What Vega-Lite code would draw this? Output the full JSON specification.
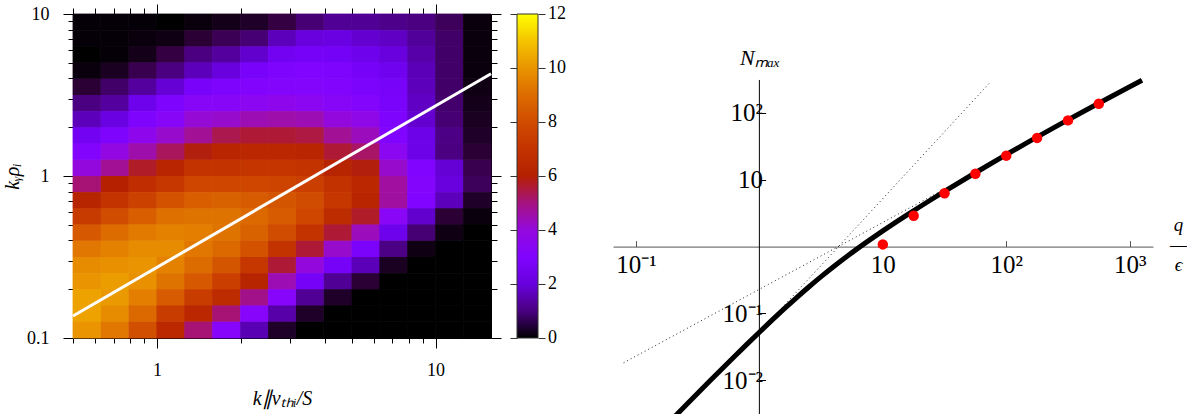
{
  "$schema": "https://vega.github.io/schema/vega-lite/v6.json",
  "background": "white",
  "padding": {"left": 2, "top": 3, "right": 0, "bottom": 0},
  "bounds": "flush",
  "spacing": 122,
  "config": {
    "font": "Liberation Serif",
    "view": {"stroke": null},
    "axis": {"grid": false, "labelColor": "black", "titleColor": "black", "titleFontWeight": "normal", "labelFont": "Liberation Serif", "titleFont": "Liberation Serif", "labelOverlap": false, "labelFlush": false, "domainColor": "black", "tickColor": "black"},
    "legend": {"labelFont": "Liberation Serif", "labelColor": "black"}
  },
  "datasets": {
    "cols": [{"i":0,"x0":0.5,"x1":0.6295},{"i":1,"x0":0.6295,"x1":0.7924},{"i":2,"x0":0.7924,"x1":0.9976},{"i":3,"x0":0.9976,"x1":1.2559},{"i":4,"x0":1.2559,"x1":1.5811},{"i":5,"x0":1.5811,"x1":1.9905},{"i":6,"x0":1.9905,"x1":2.5059},{"i":7,"x0":2.5059,"x1":3.1548},{"i":8,"x0":3.1548,"x1":3.9716},{"i":9,"x0":3.9716,"x1":5.0},{"i":10,"x0":5.0,"x1":6.2946},{"i":11,"x0":6.2946,"x1":7.9245},{"i":12,"x0":7.9245,"x1":9.9763},{"i":13,"x0":9.9763,"x1":12.559},{"i":14,"x0":12.559,"x1":15.811}],
    "rows": [{"j":0,"y0":7.9433,"y1":10},{"j":1,"y0":6.3096,"y1":7.9433},{"j":2,"y0":5.0119,"y1":6.3096},{"j":3,"y0":3.9811,"y1":5.0119},{"j":4,"y0":3.1623,"y1":3.9811},{"j":5,"y0":2.5119,"y1":3.1623},{"j":6,"y0":1.9953,"y1":2.5119},{"j":7,"y0":1.5849,"y1":1.9953},{"j":8,"y0":1.2589,"y1":1.5849},{"j":9,"y0":1.0,"y1":1.2589},{"j":10,"y0":0.7943,"y1":1.0},{"j":11,"y0":0.631,"y1":0.7943},{"j":12,"y0":0.5012,"y1":0.631},{"j":13,"y0":0.3981,"y1":0.5012},{"j":14,"y0":0.3162,"y1":0.3981},{"j":15,"y0":0.2512,"y1":0.3162},{"j":16,"y0":0.1995,"y1":0.2512},{"j":17,"y0":0.1585,"y1":0.1995},{"j":18,"y0":0.1259,"y1":0.1585},{"j":19,"y0":0.1,"y1":0.1259}],
    "heat": [
      {"j":0,"i":[0,1,2,3,4,5,6,7,8,9,10,11,12,13,14],"v":[0.05,0.05,0.05,0.0,0.1,0.2,0.3,0.5,0.9,1.2,1.2,1.1,1.0,0.7,0.1]},
      {"j":1,"i":[0,1,2,3,4,5,6,7,8,9,10,11,12,13,14],"v":[0.05,0.05,0.1,0.15,0.4,0.65,0.9,1.6,2.0,2.1,1.85,1.7,1.25,0.8,0.1]},
      {"j":2,"i":[0,1,2,3,4,5,6,7,8,9,10,11,12,13,14],"v":[0.0,0.05,0.2,0.5,1.0,1.3,1.8,2.4,2.6,2.5,2.3,2.0,1.4,0.8,0.1]},
      {"j":3,"i":[0,1,2,3,4,5,6,7,8,9,10,11,12,13,14],"v":[0.1,0.25,0.6,1.0,1.6,2.0,2.7,2.9,3.0,2.9,2.6,2.35,1.55,0.8,0.1]},
      {"j":4,"i":[0,1,2,3,4,5,6,7,8,9,10,11,12,13,14],"v":[0.4,0.8,1.3,1.9,2.7,2.9,3.1,3.2,3.2,3.1,2.85,2.65,1.6,0.8,0.15]},
      {"j":5,"i":[0,1,2,3,4,5,6,7,8,9,10,11,12,13,14],"v":[1.0,1.3,2.3,2.9,3.4,3.4,3.6,3.7,3.6,3.4,3.2,2.75,1.7,0.85,0.2]},
      {"j":6,"i":[0,1,2,3,4,5,6,7,8,9,10,11,12,13,14],"v":[1.6,2.1,2.9,3.4,4.1,4.2,4.5,4.6,4.5,4.0,3.8,2.9,1.85,0.9,0.25]},
      {"j":7,"i":[0,1,2,3,4,5,6,7,8,9,10,11,12,13,14],"v":[2.4,2.9,3.7,4.2,4.8,5.4,5.6,5.6,5.5,4.8,4.4,3.0,2.2,1.05,0.3]},
      {"j":8,"i":[0,1,2,3,4,5,6,7,8,9,10,11,12,13,14],"v":[3.1,3.9,4.6,5.3,5.9,6.3,6.4,6.4,6.3,5.6,5.2,3.6,2.2,1.0,0.4]},
      {"j":9,"i":[0,1,2,3,4,5,6,7,8,9,10,11,12,13,14],"v":[4.0,4.8,5.7,6.3,7.0,7.0,7.1,7.1,7.0,6.2,5.9,4.2,3.0,1.9,0.6]},
      {"j":10,"i":[0,1,2,3,4,5,6,7,8,9,10,11,12,13,14],"v":[5.1,6.0,6.7,7.2,7.8,7.8,7.8,7.7,7.5,6.9,6.4,4.7,3.2,2.0,0.7]},
      {"j":11,"i":[0,1,2,3,4,5,6,7,8,9,10,11,12,13,14],"v":[6.2,7.0,7.6,8.2,8.6,8.7,8.5,8.3,8.0,7.2,6.3,4.7,3.0,1.6,0.3]},
      {"j":12,"i":[0,1,2,3,4,5,6,7,8,9,10,11,12,13,14],"v":[7.3,8.0,8.6,9.1,9.2,9.2,8.9,8.5,7.8,6.6,5.7,3.5,1.8,0.4,0.1]},
      {"j":13,"i":[0,1,2,3,4,5,6,7,8,9,10,11,12,13,14],"v":[8.4,9.0,9.4,9.6,9.5,9.2,8.7,8.0,7.0,5.6,4.4,2.3,0.9,0.15,0]},
      {"j":14,"i":[0,1,2,3,4,5,6,7,8,9,10,11,12,13,14],"v":[9.3,9.6,9.8,9.8,9.3,8.9,8.2,7.0,5.6,4.2,2.8,1.05,0.15,0,0]},
      {"j":15,"i":[0,1,2,3,4,5,6,7,8,9,10,11,12,13,14],"v":[9.8,9.9,10.0,9.6,9.0,8.3,7.2,5.6,4.0,2.6,1.55,0.25,0,0,0]},
      {"j":16,"i":[0,1,2,3,4,5,6,7,8,9,10,11,12,13,14],"v":[10.0,10.2,9.9,9.2,8.4,7.5,6.2,4.5,2.6,1.2,0.4,0,0,0,0]},
      {"j":17,"i":[0,1,2,3,4,5,6,7,8,9,10,11,12,13,14],"v":[10.3,10.1,9.5,8.5,7.4,6.6,4.9,3.3,1.2,0.3,0,0,0,0,0]},
      {"j":18,"i":[0,1,2,3,4,5,6,7,8,9,10,11,12,13,14],"v":[10.3,9.8,8.9,7.4,6.4,5.1,3.3,1.4,0.3,0,0,0,0,0,0]},
      {"j":19,"i":[0,1,2,3,4,5,6,7,8,9,10,11,12,13,14],"v":[10.0,9.3,8.1,6.5,5.1,3.3,1.5,0.3,0,0,0,0,0,0,0]}
    ],
    "cbar": [{"c": 0, "k": 1}, {"c": 12, "k": 1}]
  },
  "hconcat": [
    {
      "width": 418,
      "height": 324,
      "layer": [
        {
          "data": {"name": "heat"},
          "transform": [
            {"flatten": ["i", "v"], "as": ["i", "w"]},
            {"lookup": "i", "from": {"data": {"name": "cols"}, "key": "i", "fields": ["x0", "x1"]}},
            {"lookup": "j", "from": {"data": {"name": "rows"}, "key": "j", "fields": ["y0", "y1"]}}
          ],
          "mark": {"type": "rect", "filled": false, "strokeWidth": 0.8},
          "encoding": {
            "x": {"field": "x0", "type": "quantitative", "scale": {"type": "log", "domain": [0.5, 15.811], "nice": false}, "axis": null},
            "x2": {"field": "x1"},
            "y": {"field": "y0", "type": "quantitative", "scale": {"type": "log", "domain": [0.1, 10], "nice": false}, "axis": null},
            "y2": {"field": "y1"},
            "stroke": {"field": "w", "type": "quantitative",
              "scale": {"domain": [0, 12.001], "interpolate": "rgb", "range": ["#000000","#340042","#4a0080","#5a00b4","#6801dd","#7402f6","#8004ff","#8a06f6","#9309dd","#9c0db4","#a51280","#ad1942","#b42000","#bc2900","#c33300","#ca3e00","#d04c00","#d75b00","#dd6c00","#e37e00","#e99400","#efab00","#f4c400","#fae000","#ffff00"]},
              "legend": null}
          }
        },
        {
          "data": {"name": "heat"},
          "transform": [
            {"flatten": ["i", "v"]},
            {"lookup": "i", "from": {"data": {"name": "cols"}, "key": "i", "fields": ["x0", "x1"]}},
            {"lookup": "j", "from": {"data": {"name": "rows"}, "key": "j", "fields": ["y0", "y1"]}}
          ],
          "mark": {"type": "rect"},
          "encoding": {
            "x": {"field": "x0", "type": "quantitative", "scale": {"type": "log", "domain": [0.5, 15.811], "nice": false},
              "axis": {"orient": "bottom", "values": [0.5,0.6,0.7,0.8,0.9,1,2,3,4,5,6,7,8,9,10],
                "labelExpr": "datum.value == 1 ? '1' : datum.value == 10 ? '10' : ''",
                "tickSize": {"condition": {"test": "datum.value == 1 || datum.value == 10", "value": 10}, "value": 5},
                "labelPadding": 13, "labelFontSize": 18,
                "title": "k∥vₜₕᵢ/S", "titleFontStyle": "italic", "titleFontSize": 20, "titlePadding": 9}},
            "x2": {"field": "x1"},
            "y": {"field": "y0", "type": "quantitative", "scale": {"type": "log", "domain": [0.1, 10], "nice": false},
              "axis": {"orient": "left", "values": [0.1,0.2,0.3,0.4,0.5,0.6,0.7,0.8,0.9,1,2,3,4,5,6,7,8,9,10],
                "labelExpr": "datum.value == 0.1 ? '0.1' : datum.value == 1 ? '1' : datum.value == 10 ? '10' : ''",
                "tickSize": {"condition": {"test": "datum.value == 0.1 || datum.value == 1 || datum.value == 10", "value": 10}, "value": 5},
                "labelPadding": 14, "labelFontSize": 18,
                "title": "kᵧρᵢ", "titleFontStyle": "italic", "titleFontSize": 20, "titlePadding": 4}},
            "y2": {"field": "y1"},
            "color": {"field": "v", "type": "quantitative",
              "scale": {"domain": [0, 12], "interpolate": "rgb", "range": ["#000000","#340042","#4a0080","#5a00b4","#6801dd","#7402f6","#8004ff","#8a06f6","#9309dd","#9c0db4","#a51280","#ad1942","#b42000","#bc2900","#c33300","#ca3e00","#d04c00","#d75b00","#dd6c00","#e37e00","#e99400","#efab00","#f4c400","#fae000","#ffff00"]},
              "legend": {"type": "gradient", "orient": "none", "legendX": 444, "legendY": 0, "direction": "vertical", "gradientLength": 324, "gradientThickness": 21, "title": null, "values": [0,2,4,6,8,10,12], "labelFontSize": 18, "labelOffset": 10, "gradientStrokeColor": "#333333", "gradientStrokeWidth": 1, "labelBaseline": "middle", "labelOverlap": false,
                "encode": {"labels": {"update": {"baseline": {"value": "middle"}}}}}}
          }
        },
        {
          "data": {"values": [{"kpar": 0.5, "ky": 0.1367}, {"kpar": 15.811, "ky": 4.28}]},
          "mark": {"type": "line", "color": "white", "strokeWidth": 3},
          "encoding": {
            "x": {"field": "kpar", "type": "quantitative", "scale": {"type": "log", "domain": [0.5, 15.811], "nice": false},
              "axis": {"orient": "top", "values": [0.5,0.6,0.7,0.8,0.9,1,2,3,4,5,6,7,8,9,10], "labels": false, "title": null,
                "tickSize": {"condition": {"test": "datum.value == 1 || datum.value == 10", "value": 10}, "value": 6}}},
            "y": {"field": "ky", "type": "quantitative", "scale": {"type": "log", "domain": [0.1, 10], "nice": false},
              "axis": {"orient": "right", "values": [0.1,0.2,0.3,0.4,0.5,0.6,0.7,0.8,0.9,1,2,3,4,5,6,7,8,9,10], "labels": false, "title": null,
                "tickSize": {"condition": {"test": "datum.value == 0.1 || datum.value == 1 || datum.value == 10", "value": 10}, "value": 6}}}
          }
        },
        {
          "data": {"name": "cbar"},
          "mark": {"type": "point", "opacity": 0},
          "encoding": {
            "x": {"field": "k", "type": "quantitative", "scale": {"type": "log", "domain": [0.5, 15.811], "nice": false}, "axis": null},
            "y": {"field": "c", "type": "quantitative", "scale": {"domain": [0, 12], "nice": false, "zero": false},
              "axis": {"orient": "left", "offset": -444, "values": [0,2,4,6,8,10,12], "labels": false, "domain": false, "title": null, "tickSize": 7, "tickColor": "#333333"}}
          }
        },
        {
          "data": {"name": "cbar"},
          "mark": {"type": "point", "opacity": 0},
          "encoding": {
            "x": {"field": "k", "type": "quantitative", "scale": {"type": "log", "domain": [0.5, 15.811], "nice": false}, "axis": null},
            "y": {"field": "c", "type": "quantitative", "scale": {"domain": [0, 12], "nice": false, "zero": false},
              "axis": {"orient": "right", "offset": 47, "values": [0,2,4,6,8,10,12], "labels": false, "domain": false, "title": null, "tickSize": 7, "tickColor": "#333333"}}
          }
        }
      ],
      "resolve": {"scale": {"y": "independent"}, "axis": {"x": "independent", "y": "independent"}}
    },
    {
      "width": 540,
      "height": 400,
      "layer": [
        {
          "data": {"values": [{"q": 1, "n": 0.003133, "n2": 312}]},
          "mark": {"type": "rule", "color": "black", "strokeWidth": 1},
          "encoding": {
            "x": {"field": "q", "type": "quantitative", "scale": {"type": "log", "domain": [0.06516, 1545], "nice": false},
              "axis": {"orient": "bottom", "offset": -167.4, "values": [0.1, 10, 100, 1000],
                "labelExpr": "datum.value == 0.1 ? '10⁻¹' : datum.value == 10 ? '10' : datum.value == 100 ? '10²' : '10³'",
                "tickSize": -6, "labelPadding": 12, "labelFontSize": 25, "domainColor": "#555555", "tickColor": "#555555",
                "title": ["q", "—", "ϵ"], "titleX": 565, "titleY": -31, "titleAlign": "center", "titleBaseline": "top", "titleFontSize": 19, "titleFontStyle": "italic", "titleLineHeight": 20}},
            "y": {"field": "n", "type": "quantitative", "scale": {"type": "log", "domain": [0.003133, 3027], "nice": false},
              "axis": {"orient": "left", "offset": -146.6, "domain": false, "values": [0.01, 0.1, 10, 100],
                "labelExpr": "datum.value == 0.01 ? '10⁻²' : datum.value == 0.1 ? '10⁻¹' : datum.value == 10 ? '10' : '10²'",
                "tickSize": -6, "labelPadding": 3, "labelFontSize": 25,
                "title": "Nₘₐₓ", "titleAngle": 0, "titleX": 0, "titleY": 50, "titleAlign": "center", "titleBaseline": "alphabetic", "titleFontSize": 22, "titleFontStyle": "italic"}},
            "y2": {"field": "n2"}
          }
        },
        {
          "data": {"values": [
            {"s": "a", "q": 0.0794, "N": 0.0183}, {"s": "a", "q": 63.0, "N": 14.5},
            {"s": "b", "q": 1.312, "N": 0.0901}, {"s": "b", "q": 72.4, "N": 274.6}
          ]},
          "mark": {"type": "line", "color": "#222222", "strokeWidth": 1, "strokeDash": [1, 3]},
          "encoding": {
            "x": {"field": "q", "type": "quantitative", "scale": {"type": "log", "domain": [0.06516, 1545], "nice": false}},
            "y": {"field": "N", "type": "quantitative", "scale": {"type": "log", "domain": [0.003133, 3027], "nice": false}},
            "detail": {"field": "s"}
          }
        },
        {
          "data": {"values": [
            {"q": 0.1995, "N": 0.002698}, {"q": 0.2512, "N": 0.004159}, {"q": 0.3162, "N": 0.006397}, {"q": 0.3981, "N": 0.009817},
            {"q": 0.5012, "N": 0.01503}, {"q": 0.631, "N": 0.02291}, {"q": 0.7943, "N": 0.03475}, {"q": 1, "N": 0.05248},
            {"q": 1.259, "N": 0.0787}, {"q": 1.585, "N": 0.1169}, {"q": 1.995, "N": 0.1718}, {"q": 2.512, "N": 0.2489},
            {"q": 3.162, "N": 0.3556}, {"q": 3.981, "N": 0.5}, {"q": 5.012, "N": 0.6934}, {"q": 6.31, "N": 0.9506},
            {"q": 7.943, "N": 1.285}, {"q": 10, "N": 1.722}, {"q": 12.59, "N": 2.286}, {"q": 15.85, "N": 3.013},
            {"q": 19.95, "N": 3.954}, {"q": 25.12, "N": 5.164}, {"q": 31.62, "N": 6.714}, {"q": 56.23, "N": 12.76},
            {"q": 100, "N": 23.77}, {"q": 316.2, "N": 78.7}, {"q": 1259, "N": 309}
          ]},
          "mark": {"type": "line", "color": "black", "strokeWidth": 5, "clip": true, "interpolate": "monotone"},
          "encoding": {
            "x": {"field": "q", "type": "quantitative", "scale": {"type": "log", "domain": [0.06516, 1545], "nice": false}},
            "y": {"field": "N", "type": "quantitative", "scale": {"type": "log", "domain": [0.003133, 3027], "nice": false}}
          }
        },
        {
          "data": {"values": [
            {"q": 10, "N": 1.08}, {"q": 17.78, "N": 2.9}, {"q": 31.62, "N": 6.3}, {"q": 56.23, "N": 12.3},
            {"q": 100, "N": 23.0}, {"q": 177.8, "N": 42.4}, {"q": 316.2, "N": 77.5}, {"q": 562.3, "N": 137.7}
          ]},
          "mark": {"type": "circle", "color": "#ff0000", "opacity": 1, "size": 110},
          "encoding": {
            "x": {"field": "q", "type": "quantitative", "scale": {"type": "log", "domain": [0.06516, 1545], "nice": false}},
            "y": {"field": "N", "type": "quantitative", "scale": {"type": "log", "domain": [0.003133, 3027], "nice": false}}
          }
        }
      ]
    }
  ]
}
